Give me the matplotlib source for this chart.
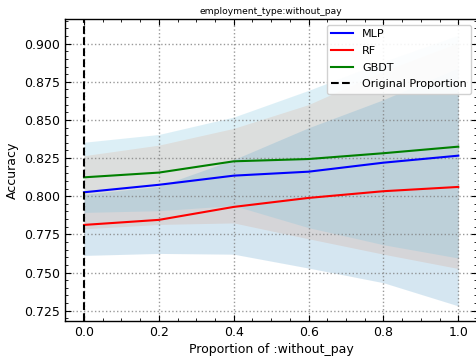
import matplotlib
matplotlib.use("Agg")
import matplotlib.pyplot as plt
import numpy as np
from matplotlib.ticker import AutoMinorLocator, MultipleLocator

# Proportion of the ":without_pay" category
proportions = [0.0, 0.2, 0.4, 0.6, 0.8, 1.0]

# Mean accuracy per model
mlp_mean = [0.8026, 0.8075, 0.8135, 0.8161, 0.8220, 0.8266]
rf_mean = [0.7812, 0.7845, 0.7930, 0.7989, 0.8033, 0.8061]
gbdt_mean = [0.8124, 0.8155, 0.8229, 0.8244, 0.8282, 0.8325]

# Standard deviation per model
mlp_std = [0.024, 0.026, 0.031, 0.044, 0.060, 0.074]
rf_std = [0.020, 0.022, 0.031, 0.046, 0.060, 0.078]
gbdt_std = [0.023, 0.025, 0.029, 0.045, 0.060, 0.073]

original_proportion = 0.0

x = np.array(proportions)
models = [
    ("MLP", np.array(mlp_mean), np.array(mlp_std), "blue", "#fca578"),
    ("RF", np.array(rf_mean), np.array(rf_std), "red", "#5b9fcb"),
    ("GBDT", np.array(gbdt_mean), np.array(gbdt_std), "green", "#77c3df"),
]

plt.rcParams.update({
    "font.family": "DejaVu Sans",
    "xtick.direction": "in",
    "ytick.direction": "in",
    "xtick.top": True,
    "ytick.right": True,
    "xtick.minor.visible": True,
    "ytick.minor.visible": True,
    "xtick.major.size": 4,
    "ytick.major.size": 4,
    "xtick.minor.size": 2,
    "ytick.minor.size": 2,
    "axes.linewidth": 1.0,
})

fig = plt.figure(figsize=(4.76, 3.58), dpi=100)
ax = fig.add_axes([65.3 / 476, 1 - 320.7 / 358, (477.0 - 65.3) / 476, (320.7 - 19.3) / 358])

for name, mean, std, line_color, band_color in models:
    ax.plot(x, mean, color=line_color, lw=1.5, label=name, zorder=3)
    ax.fill_between(x, mean - std, mean + std, color=band_color, alpha=0.25, lw=0, zorder=1)

ax.axvline(original_proportion, color="black", ls="--", lw=1.5, label="Original Proportion", zorder=3)

ax.set_xlim(-0.05, 1.05)
ax.set_ylim(0.7184, 0.9160)
ax.xaxis.set_major_locator(MultipleLocator(0.2))
ax.yaxis.set_major_locator(MultipleLocator(0.025))
ax.xaxis.set_minor_locator(AutoMinorLocator(4))
ax.yaxis.set_minor_locator(AutoMinorLocator(5))
ax.tick_params(labelsize=9)

ax.grid(True, which="major", ls=":", color="gray", lw=1.0, alpha=0.8)

ax.set_xlabel("Proportion of :without_pay", fontsize=9, labelpad=3)
ax.set_ylabel("Accuracy", fontsize=9)
ax.set_title("employment_type:without_pay", fontsize=6.6, pad=3.5)

ax.legend(loc="upper right", fontsize=8, labelspacing=0.6, framealpha=0.9)

fig.savefig("out.png", dpi=100)
